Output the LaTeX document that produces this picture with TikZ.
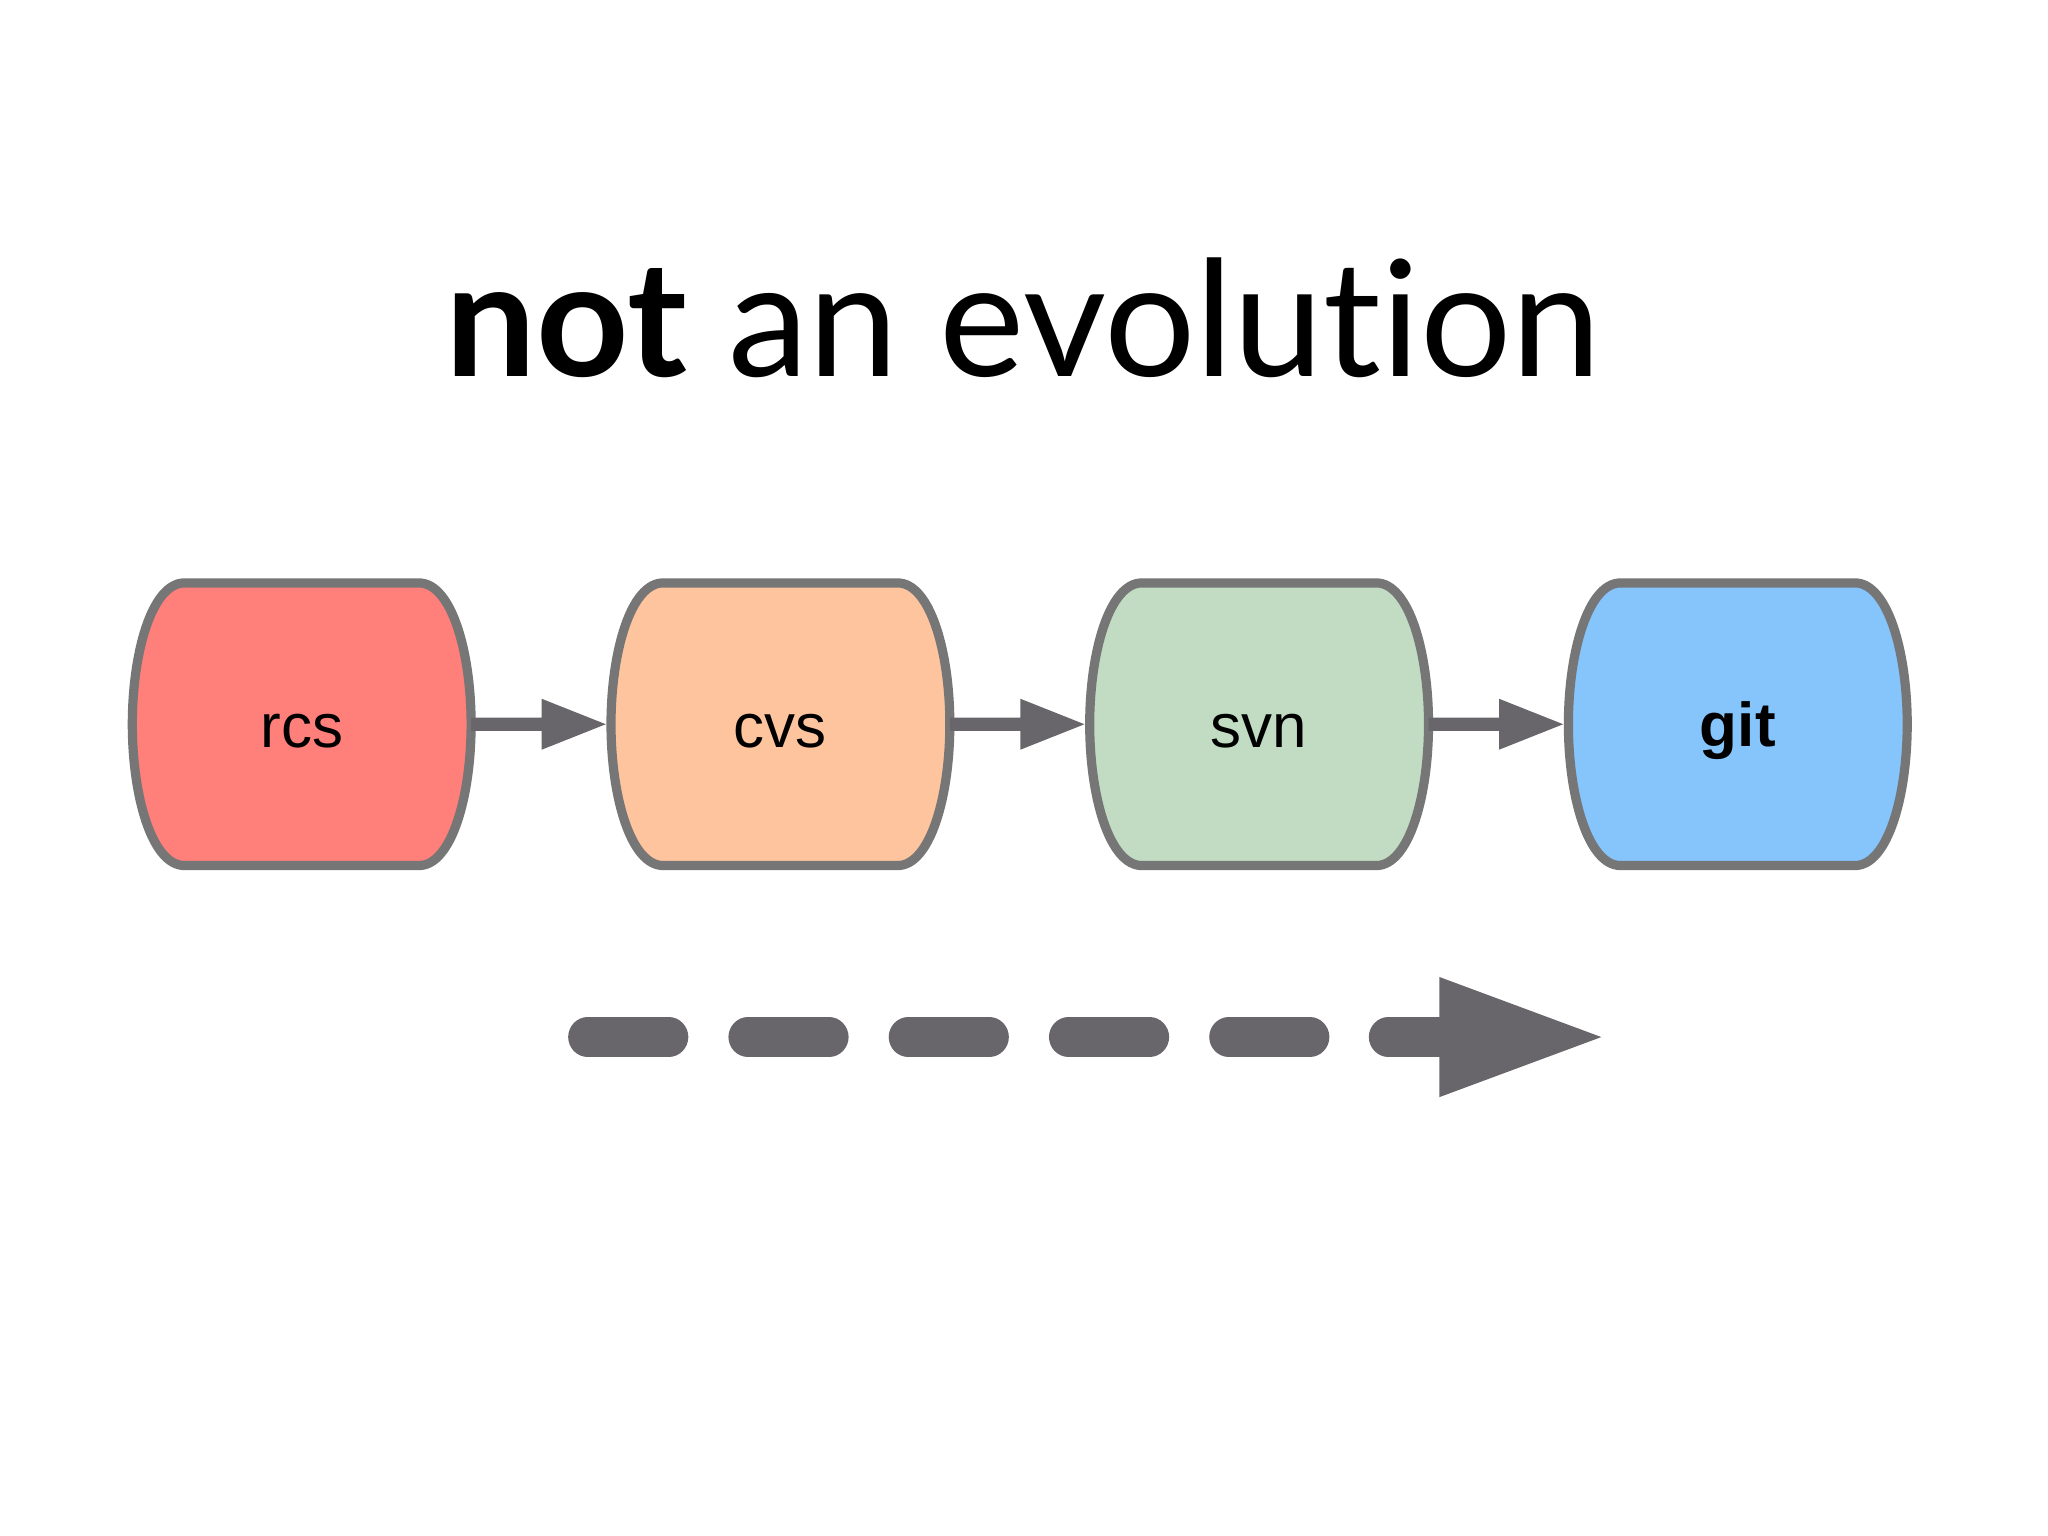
\documentclass[tikz,border=0pt]{standalone}
\usepackage{fontspec}
\setmainfont{Liberation Sans}
\newfontfamily\titlefont[Ligatures=NoCommon,Contextuals=NoAlternate]{Lato}
\definecolor{edge}{HTML}{777677}
\definecolor{arr}{HTML}{68666A}
\definecolor{crcs}{HTML}{FF7F7A}
\definecolor{ccvs}{HTML}{FDC49E}
\definecolor{csvn}{HTML}{C1DCC2}
\definecolor{cgit}{HTML}{86C4FC}
\newcommand{\mycyl}[4]{%
  \node[cylbox] (#1) at (#2,-5.545) {};
  \draw[edge line,fill=#3] ([xshift=0.4cm]#1.north west) -- ([xshift=-0.4cm]#1.north east)
    .. controls ([xshift=-0.15cm]#1.north east) and ([yshift=0.55cm]#1.east) .. (#1.east)
    .. controls ([yshift=-0.55cm]#1.east) and ([xshift=-0.15cm]#1.south east) .. ([xshift=-0.4cm]#1.south east)
    -- ([xshift=0.4cm]#1.south west)
    .. controls ([xshift=0.15cm]#1.south west) and ([yshift=-0.55cm]#1.west) .. (#1.west)
    .. controls ([yshift=0.55cm]#1.west) and ([xshift=0.15cm]#1.north west) .. ([xshift=0.4cm]#1.north west) -- cycle;
  \node[yshift=-0.05cm] at (#1) {\fontsize{13.5}{16}\selectfont #4};}
\newcommand{\blockarrow}[2]{%
  \fill[arr] ([yshift=0.05cm]#1.east) -- ++(0.54,0) -- ++(0,0.145) -- ([xshift=-0.04cm]#2.west) -- ([xshift=0.54cm,yshift=-0.195cm]#1.east) -- ++(0,0.145) -- ([yshift=-0.05cm]#1.east) -- cycle;}
\tikzset{
  cylbox/.style={minimum width=2.58cm,minimum height=2.15cm,inner sep=0pt},
  edge line/.style={draw=edge,line width=2pt},
  dashline/.style={arr,line width=0.3cm,line cap=round}
}
\begin{document}
\begin{tikzpicture}
\useasboundingbox[fill=white] (0,0) rectangle (15.68,-11.76);
\node[inner sep=0pt] (title) at (7.835,-2.43) {\resizebox{8.85cm}{!}{\titlefont\fontsize{34}{40}\selectfont{\fontseries{b}\selectfont not} an evolution}};
\mycyl{rcs}{2.31}{crcs}{rcs}
\mycyl{cvs}{5.975}{ccvs}{cvs}
\mycyl{svn}{9.64}{csvn}{svn}
\mycyl{git}{13.305}{cgit}{\textbf{git}}
\blockarrow{rcs}{cvs}
\blockarrow{cvs}{svn}
\blockarrow{svn}{git}
\coordinate (d0) at (4.5,-7.94);
\foreach \i in {0,...,4} \draw[dashline] ([xshift=\i*1.227cm]d0) -- ++(0.62,0);
\coordinate (hb) at (11.02,-7.94);
\coordinate (tip) at (12.26,-7.94);
\draw[dashline] ([xshift=-0.39cm]hb) -- (hb);
\fill[arr] ([yshift=0.46cm]hb) -- (tip) -- ([yshift=-0.46cm]hb) -- cycle;
\end{tikzpicture}
\end{document}
